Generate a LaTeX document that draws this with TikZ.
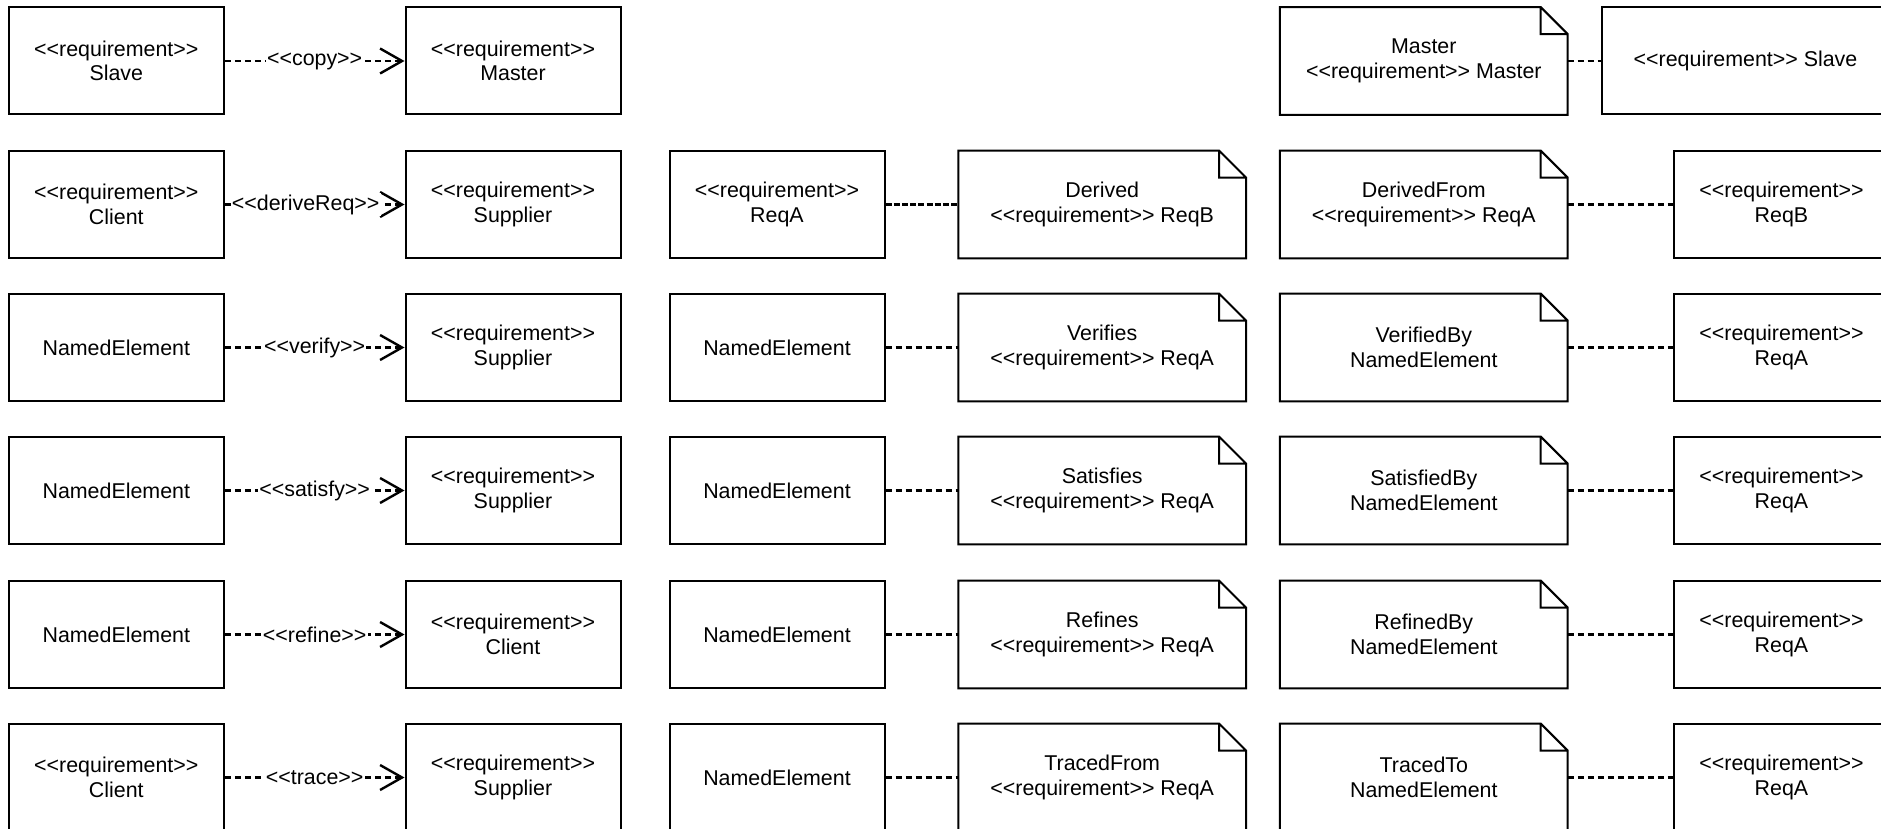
\documentclass[tikz,border=0pt]{standalone}
\usepackage{fontspec}
\setmainfont{Liberation Sans}[Ligatures=TeXOff]
\usetikzlibrary{arrows.meta}
\begin{document}
\begin{tikzpicture}[x=0.5pt,y=-0.5pt,
  every node/.style={font=\fontsize{10.7}{12.2}\selectfont, align=center, inner sep=0pt},
  reqbox/.style={draw, line width=1pt, minimum width=107.5pt, minimum height=53.5pt},
  widebox/.style={reqbox, minimum width=143.5pt},
  notebox/.style={minimum width=143.5pt, minimum height=53.5pt},
  noteline/.style={line width=1pt, line join=miter},
  dep/.style={line width=1.1pt, dash pattern=on 3pt off 2pt},
  densedep/.style={line width=1.1pt, dash pattern=on 3pt off 1.1pt},
  deparrow/.style={dep, -{Straight Barb[length=11pt, width=12.5pt, line width=1.2pt]}},
  stereo/.style={fill=white, inner xsep=0.6pt, inner ysep=0.8pt}
]
\fill[white] (0,0) rectangle (1881,829);
\useasboundingbox (0,0) rectangle (1881,829);
\clip (0,0) rectangle (1881,829);

% row 1: copy
\node[reqbox] (r1a) at (116.3,61) {<<requirement>>\\Slave};
\node[reqbox] (r1b) at (513,61) {<<requirement>>\\Master};
\node[notebox] (r1n) at (1423.8,61) {Master\\<<requirement>> Master};
\node[widebox] (r1s) at (1745.5,61) {<<requirement>> Slave};

% row 2: deriveReq
\node[reqbox] (r2a) at (116.3,204.5) {<<requirement>>\\Client};
\node[reqbox] (r2b) at (513,204.5) {<<requirement>>\\Supplier};
\node[reqbox] (r2c) at (777,204.5) {<<requirement>>\\ReqA};
\node[notebox] (r2d) at (1102.2,204.5) {Derived\\<<requirement>> ReqB};
\node[notebox] (r2e) at (1423.8,204.5) {DerivedFrom\\<<requirement>> ReqA};
\node[reqbox] (r2f) at (1781.5,204.5) {<<requirement>>\\ReqB};

% row 3: verify
\node[reqbox] (r3a) at (116.3,347.5) {NamedElement};
\node[reqbox] (r3b) at (513,347.5) {<<requirement>>\\Supplier};
\node[reqbox] (r3c) at (777,347.5) {NamedElement};
\node[notebox] (r3d) at (1102.2,347.5) {Verifies\\<<requirement>> ReqA};
\node[notebox] (r3e) at (1423.8,347.5) {VerifiedBy\\NamedElement};
\node[reqbox] (r3f) at (1781.5,347.5) {<<requirement>>\\ReqA};

% row 4: satisfy
\node[reqbox] (r4a) at (116.3,490.5) {NamedElement};
\node[reqbox] (r4b) at (513,490.5) {<<requirement>>\\Supplier};
\node[reqbox] (r4c) at (777,490.5) {NamedElement};
\node[notebox] (r4d) at (1102.2,490.5) {Satisfies\\<<requirement>> ReqA};
\node[notebox] (r4e) at (1423.8,490.5) {SatisfiedBy\\NamedElement};
\node[reqbox] (r4f) at (1781.5,490.5) {<<requirement>>\\ReqA};

% row 5: refine
\node[reqbox] (r5a) at (116.3,634.5) {NamedElement};
\node[reqbox] (r5b) at (513,634.5) {<<requirement>>\\Client};
\node[reqbox] (r5c) at (777,634.5) {NamedElement};
\node[notebox] (r5d) at (1102.2,634.5) {Refines\\<<requirement>> ReqA};
\node[notebox] (r5e) at (1423.8,634.5) {RefinedBy\\NamedElement};
\node[reqbox] (r5f) at (1781.5,634.5) {<<requirement>>\\ReqA};

% row 6: trace
\node[reqbox] (r6a) at (116.3,777.5) {<<requirement>>\\Client};
\node[reqbox] (r6b) at (513,777.5) {<<requirement>>\\Supplier};
\node[reqbox] (r6c) at (777,777.5) {NamedElement};
\node[notebox] (r6d) at (1102.2,777.5) {TracedFrom\\<<requirement>> ReqA};
\node[notebox] (r6e) at (1423.8,777.5) {TracedTo\\NamedElement};
\node[reqbox] (r6f) at (1781.5,777.5) {<<requirement>>\\ReqA};

% note outlines with folded corner
\foreach \n in {r1n,r2d,r2e,r3d,r3e,r4d,r4e,r5d,r5e,r6d,r6e}
  \draw[noteline] (\n.south west) -- (\n.north west)
    -- ([xshift=-13.5pt]\n.north east) -- ([yshift=-13.5pt]\n.north east)
    -- (\n.south east) -- cycle
    ([xshift=-13.5pt]\n.north east) -- ([xshift=-13.5pt,yshift=-13.5pt]\n.north east)
    -- ([yshift=-13.5pt]\n.north east);

% stereotyped dependencies
\draw[deparrow] (r1a) -- node[stereo] {<<copy>>} (r1b);
\draw[deparrow] (r2a) -- node[stereo, pos=0.45] {<<deriveReq>>} (r2b);
\draw[deparrow] (r3a) -- node[stereo] {<<verify>>} (r3b);
\draw[deparrow] (r4a) -- node[stereo] {<<satisfy>>} (r4b);
\draw[deparrow] (r5a) -- node[stereo] {<<refine>>} (r5b);
\draw[deparrow] (r6a) -- node[stereo] {<<trace>>} (r6b);

% note anchors
\draw[dep] (r1n) -- (r1s);
\draw[densedep] (r2c) -- (r2d);
\draw[dep] (r2e) -- (r2f);
\draw[dep] (r3c) -- (r3d);
\draw[dep] (r3e) -- (r3f);
\draw[dep] (r4c) -- (r4d);
\draw[dep] (r4e) -- (r4f);
\draw[dep] (r5c) -- (r5d);
\draw[dep] (r5e) -- (r5f);
\draw[dep] (r6c) -- (r6d);
\draw[dep] (r6e) -- (r6f);
\end{tikzpicture}
\end{document}
